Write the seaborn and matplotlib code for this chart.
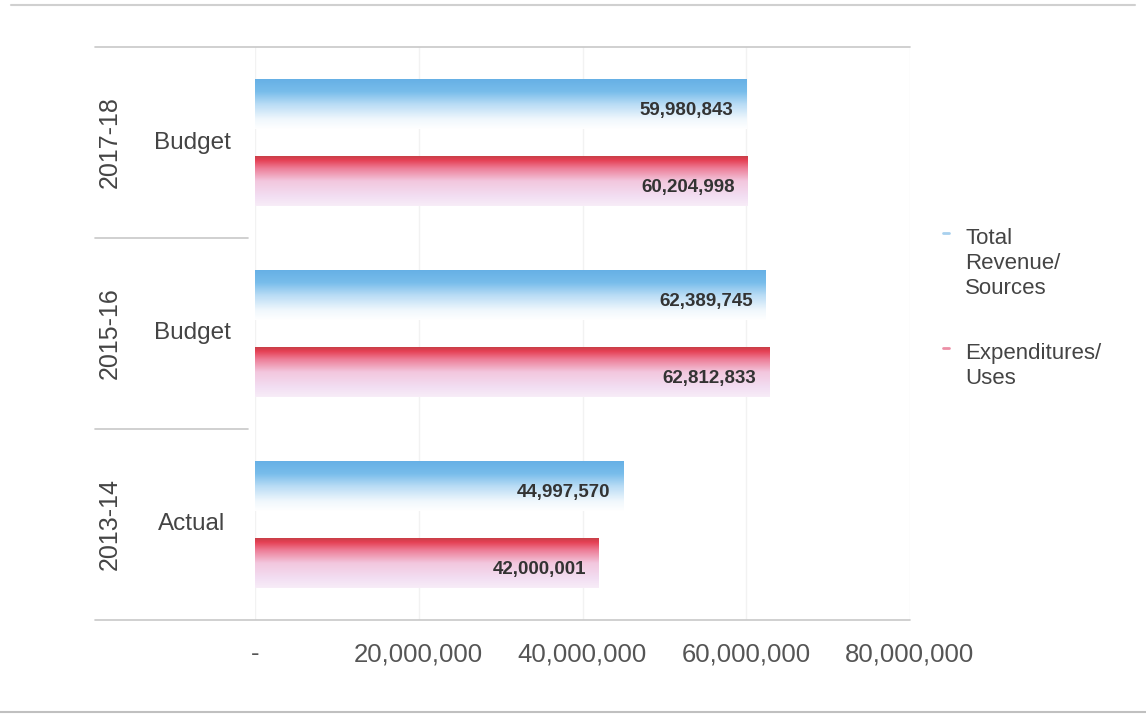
import numpy as np
import pandas as pd
import matplotlib
matplotlib.use("Agg")
import matplotlib.pyplot as plt
import seaborn as sns
from matplotlib.lines import Line2D
from matplotlib.colors import LinearSegmentedColormap

# ---- data ----
periods = ["2017-18", "2015-16", "2013-14"]
kinds = ["Budget", "Budget", "Actual"]
revenue = [59980843, 62389745, 44997570]
expenditures = [60204998, 62812833, 42000001]
series_names = ["Total\nRevenue/\nSources", "Expenditures/\nUses"]
x_ticks = [0, 20000000, 40000000, 60000000, 80000000]

cats = [f"{p} {k}" for p, k in zip(periods, kinds)]
df = pd.DataFrame({
    "cat": cats * 2,
    "series": [series_names[0]] * 3 + [series_names[1]] * 3,
    "value": revenue + expenditures,
})

sns.set_theme(style="white")
plt.rcParams["font.family"] = ["Liberation Sans", "DejaVu Sans"]

W, H = 1146, 723
fig = plt.figure(figsize=(W / 100, H / 100), dpi=100)
ax = fig.add_axes([255 / W, 1 - 620 / H, (910 - 255) / W, (620 - 47) / H])

sns.barplot(data=df, y="cat", x="value", hue="series", orient="h",
            order=cats, hue_order=series_names, width=0.8, gap=0.35,
            palette=["#6db8e8", "#e0404f"], ax=ax, legend=False)

# gradients
blue_cmap = LinearSegmentedColormap.from_list("b", [
    (0.0, (0.40, 0.69, 0.90)), (0.25, (0.47, 0.74, 0.92)),
    (0.5, (0.72, 0.86, 0.96)), (0.8, (0.94, 0.97, 0.99)), (1.0, (1, 1, 1))])
red_cmap = LinearSegmentedColormap.from_list("r", [
    (0.0, (0.78, 0.25, 0.28)), (0.08, (0.90, 0.25, 0.33)), (0.25, (0.93, 0.50, 0.60)),
    (0.5, (0.95, 0.78, 0.87)), (0.8, (0.95, 0.87, 0.95)), (1.0, (0.97, 0.93, 0.97))])
grad = np.linspace(0, 1, 256).reshape(-1, 1)

px_per_unit = (910 - 255) / 80e6
patches = list(ax.patches)
for i, p in enumerate(patches):
    x0, y0 = p.get_x(), p.get_y()
    w, h = p.get_width(), p.get_height()
    cmap = blue_cmap if i < 3 else red_cmap
    p.set_facecolor("none")
    p.set_edgecolor("none")
    im = ax.imshow(grad, cmap=cmap, aspect="auto", extent=(x0, x0 + w, y0 + h, y0),
                   origin="upper", interpolation="bilinear", zorder=2)
    im.set_clip_path(p)
    ax.text(x0 + w - 13 / px_per_unit, y0 + h * 0.63,
            f"{w:,.0f}", ha="right", va="center", fontsize=13.5, fontweight="bold",
            color="#333333", zorder=3)

ax.set_xlim(0, 80e6)
ax.set_ylim(2.5, -0.5)
ax.set_xticks(x_ticks)
ax.set_xticklabels(["-" if t == 0 else f"{t:,.0f}" for t in x_ticks],
                   fontsize=18.5, color="#555555")
ax.tick_params(axis="x", length=0, pad=16)
ax.set_yticks([])
ax.set_xlabel("")
ax.set_ylabel("")
for s in ax.spines.values():
    s.set_visible(False)
ax.grid(axis="x", color="#f2f2f2", linewidth=1)
ax.set_axisbelow(True)

# frame lines and category separators
tr = ax.get_yaxis_transform()
x_left = (95 - 255) / (910 - 255)
for yb in [-0.5, 2.5]:
    ax.plot([x_left, 1.0], [yb, yb], transform=tr, color="#c8c8c8", lw=1.2, clip_on=False)
for yb in [0.5, 1.5]:
    ax.plot([x_left, -0.01], [yb, yb], transform=tr, color="#c8c8c8", lw=1.2, clip_on=False)

# two-level category labels
for i, (p, k) in enumerate(zip(periods, kinds)):
    ax.text((110 - 255) / 655, i, p, transform=tr, rotation=90, ha="center", va="center",
            fontsize=18, color="#444444")
    ax.text((192 - 255) / 655, i, k, transform=tr, ha="center", va="center",
            fontsize=17.5, color="#444444")

# legend (manual, marker at first line)
legend_colors = ["#a8d0ee", "#ec8fa6"]
legend_tops = [228, 343]
for name, c, ytop in zip(series_names, legend_colors, legend_tops):
    fig.text(965 / W, 1 - ytop / H, name, ha="left", va="top", fontsize=16,
             color="#444444", linespacing=1.25)
    fig.add_artist(Line2D([943 / W, 949 / W], [1 - (ytop + 5) / H] * 2, color=c, lw=2))

# outer figure lines
fig.add_artist(Line2D([0.01, 0.99], [1 - 5 / H, 1 - 5 / H], color="#d0d0d0", lw=1.5))
fig.add_artist(Line2D([0.0, 1.0], [1 - 712 / H, 1 - 712 / H], color="#c0c0c0", lw=1.5))

fig.savefig("out.png", dpi=100, facecolor="white")
